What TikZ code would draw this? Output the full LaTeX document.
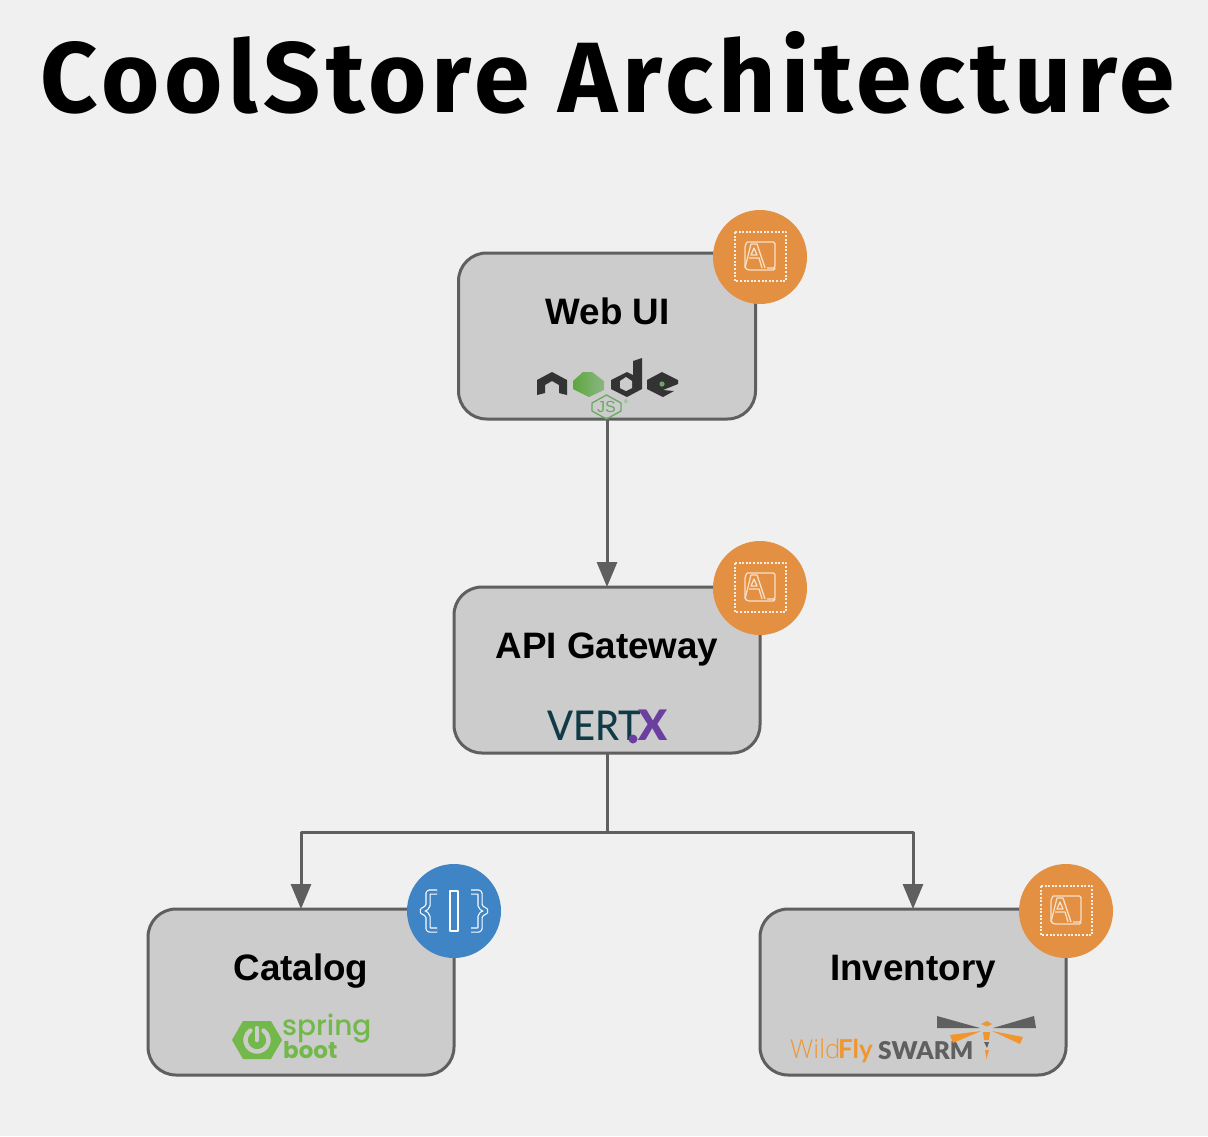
\documentclass[tikz,border=0pt]{standalone}
\usepackage{fontspec}
\usepackage{graphicx}
\setmainfont{Liberation Sans}
\newfontfamily\titlefont{Fira Sans}[UprightFont=* Bold,LetterSpace=5.3]
\newfontfamily\logofont{Lato}
\newfontfamily\vertfont{Lato Medium}
\newfontfamily\heavyfont{Lato Black}
\newfontfamily\springfont{Poppins Medium}
\newfontfamily\bootfont{Poppins}
\newfontfamily\lightfont{Open Sans Light}
\usetikzlibrary{arrows.meta}
\definecolor{pagebg}{HTML}{F0F0F0}
\definecolor{boxfill}{HTML}{CCCCCC}
\definecolor{boxline}{HTML}{5F5F5F}
\definecolor{appcol}{HTML}{E39042}
\definecolor{codecol}{HTML}{3F85C6}
\definecolor{nodedark}{HTML}{333333}
\definecolor{nodegreen}{HTML}{6AA864}
\definecolor{hexleft}{HTML}{5CA83F}
\definecolor{hexright}{HTML}{8DB583}
\definecolor{vertdark}{HTML}{0F3A46}
\definecolor{vertpurple}{HTML}{6B3FA0}
\definecolor{springgreen}{HTML}{72B84A}
\definecolor{flyorange}{HTML}{F0962E}
\tikzset{
	svcbox/.style={draw=boxline, fill=boxfill, line width=3pt, rounded corners=28pt, outer sep=0pt, inner sep=0pt, minimum height=166pt, minimum width=306pt},
	svclabel/.style={anchor=base, font=\fontsize{36.8}{40}\selectfont\bfseries, text=black, inner sep=0pt},
	flow/.style={draw=boxline, line width=3pt, -{Triangle[length=25pt,width=20pt]}},
	badge/.style={circle, inner sep=0pt, outer sep=0pt, minimum size=94pt},
	appicon/.pic={
		\draw[white!85!appcol, line width=1.5pt, dash pattern=on 2pt off 1.6pt] (-25,-25) rectangle (26,24);
		\draw[white!72!appcol, line width=1.3pt, rounded corners=1.5pt] (-13,-15) -- (15,-15) -- (15,11) -- (7,11) (-13,-15) -- (-15,-11) -- (-15,11) -- (-12,13) -- (15,13) -- (15,11);
		\draw[white!72!appcol, line width=1.3pt] (-15,11) -- (-9,-13) -- (-3,-13) -- (5,11);
		\draw[white!72!appcol, line width=1.3pt] (-11,1) -- (-1,1) -- (2,11) (-9,-2) -- (-6,-9) -- (-3,-2) -- cycle;
	},
	codeicon/.pic={
		\draw[white, line width=1.2pt, double=codecol, double distance=3pt, rounded corners=2pt]
			(-17,-19) -- (-26,-19) -- (-26,-4) -- (-33,0) -- (-26,4) -- (-26,19) -- (-17,19)
			(17,-19) -- (26,-19) -- (26,-4) -- (33,0) -- (26,4) -- (26,19) -- (17,19);
		\draw[white, line width=1.3pt] (-4,-20) rectangle (4,20);
	},
}
\begin{document}
\begin{tikzpicture}[x=1pt, y=-1pt, line join=round]
	\fill[pagebg] (0,0) rectangle (1208,1136);
	\useasboundingbox (0,0) rectangle (1208,1136);
	\node[inner sep=0pt] (title) at (607.5,72.5) {\titlefont\fontsize{100}{110}\selectfont CoolStore Architecture};
	%boxes
	\node[svcbox, minimum width=297pt] (webui) at (607,336) {};
	\node[svcbox] (apigw) at (607,670) {};
	\node[svcbox] (catalog) at (301,992) {};
	\node[svcbox] (inventory) at (913,992) {};
	%connectors
	\coordinate (split) at (607,832);
	\draw[flow] (webui.south) -- (apigw.north);
	\draw[draw=boxline, line width=3pt] (apigw.south) -- (split);
	\draw[flow] (split) -| (catalog.north);
	\draw[flow] (split) -| (inventory.north);
	%labels
	\node[svclabel] (weblabel) at (607.5,324.5) {Web UI};
	\node[svclabel] (apilabel) at (607,658.5) {API Gateway};
	\node[svclabel] (catlabel) at (301,980) {Catalog};
	\node[svclabel] (invlabel) at (913,980) {Inventory};
	%badges
	\node[badge, fill=appcol] (webbadge) at (760,257) {};
	\node[badge, fill=appcol] (apibadge) at (760,588) {};
	\node[badge, fill=codecol] (catbadge) at (454,911) {};
	\node[badge, fill=appcol] (invbadge) at (1066,911) {};
	\path (webbadge) pic {appicon} (apibadge) pic {appicon} (invbadge) pic {appicon} (catbadge) pic {codeicon};
	%node logo
	\fill[nodedark] (537,380)--(552,372)--(567,380)--(567,395)--(559,393)--(559,385)--(552,381)--(545,385)--(545,393)--(537,395)--cycle;
	\shade[left color=hexleft, right color=hexright] (583,372)--(592,372)--(604,381)--(604,390)--(589,397)--(573,389)--(573,381)--cycle;
	\fill[nodedark] (633,361)--(642,358)--(642,389)--(627,397)--(611,389)--(611,380)--(627,372)--(633,375)--cycle;
	\fill[boxfill] (626,377)--(632,381)--(632,388)--(626,391)--(620,388)--(620,381)--cycle;
	\fill[nodedark] (647,380)--(662,372)--(678,380)--(678,384)--(663,390)--(674,391)--(663,397)--(647,389)--cycle;
	\fill[nodegreen] (662,384) circle (2.6pt);
	\draw[nodegreen, line width=1.3pt] (606.5,395)--(621,403)--(621,411)--(606.5,419)--(592,411)--(592,403)--cycle;
	\node[inner sep=0pt, text=nodegreen, font=\fontsize{16}{16}\selectfont] (jstext) at (606.5,407) {JS};
	\node[inner sep=0pt, text=nodegreen, font=\fontsize{5}{5}\selectfont] (jsmark) at (626,401.5) {®};
	%vertx logo
	\node[anchor=base west, inner sep=0pt, text=vertdark, font=\vertfont\fontsize{41}{41}\selectfont] (verttext) at (547,740) {\scalebox{0.93}[1]{VERT}};
	\fill[vertpurple] (633,739) circle (4.5pt);
	\node[anchor=base west, inner sep=0pt, text=vertpurple, font=\heavyfont\fontsize{42}{42}\selectfont] (vertx) at (638,740) {X};
	%spring logo
	\fill[springgreen] (232,1040)--(243,1021)--(271,1021)--(282,1040)--(271,1059)--(243,1059)--cycle;
	\draw[boxfill, line width=4.5pt, line cap=round] (257,1040) ++(125:11.5pt) arc[start angle=125, end angle=415, radius=11.5pt];
	\draw[boxfill, line width=4.5pt, line cap=round] (257,1028) -- (257,1040);
	\node[anchor=base west, inner sep=0pt, text=springgreen, font=\springfont\fontsize{28}{28}\selectfont] (springtext) at (282,1035) {spring};
	\node[anchor=base west, inner sep=0pt, text=springgreen, font=\bootfont\fontsize{23}{23}\selectfont\bfseries] (boottext) at (283,1058) {boot};
	%wildfly logo
	\node[anchor=base west, inner sep=0pt, text=flyorange, font=\lightfont\fontsize{26}{26}\selectfont] (wildtext) at (790,1058) {Wild};
	\node[anchor=base west, inner sep=0pt, text=flyorange, font=\logofont\fontsize{26}{26}\selectfont\bfseries] (flytext) at (838,1058) {Fly};
	\node[anchor=base west, inner sep=0pt, text=boxline, font=\heavyfont\fontsize{24.5}{25}\selectfont] (swarmtext) at (878,1059) {SWARM};
	\fill[boxline] (937,1016)--(980,1028)--(937,1028)--cycle (1034,1016)--(1036,1028)--(993,1028)--cycle (984,1042)--(989,1042)--(987,1048)--cycle;
	\fill[flyorange] (950,1035)--(981,1031)--(953,1043)--cycle (992,1031)--(1023,1037)--(1020,1044)--cycle (981,1024)--(987,1021)--(992,1024)--(987,1026.5)--cycle (983,1032)--(990,1032)--(989,1040)--(984,1040)--cycle (985,1050)--(989,1050)--(986.5,1059)--cycle;
\end{tikzpicture}
\end{document}
